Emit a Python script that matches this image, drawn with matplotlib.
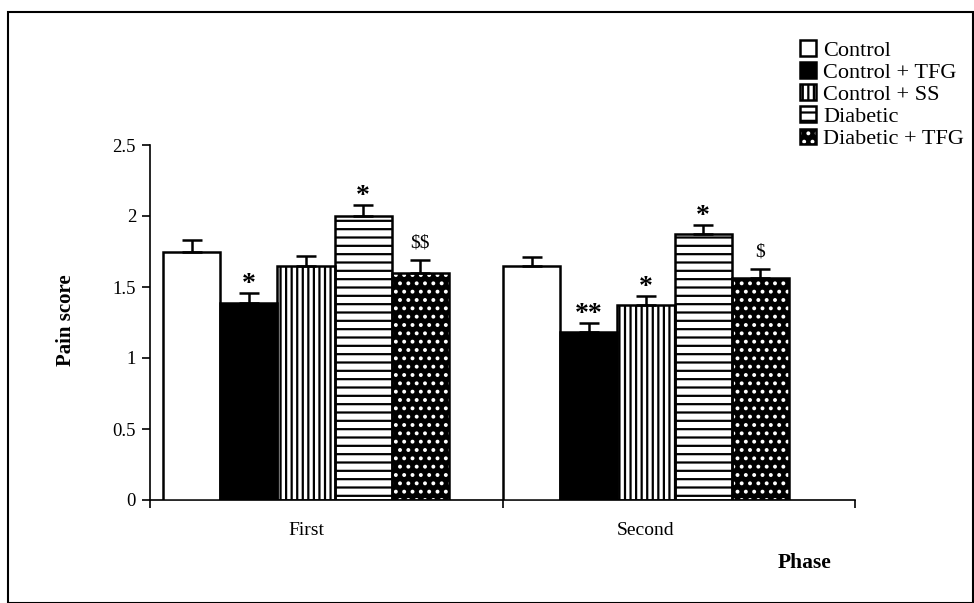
import matplotlib
matplotlib.use("Agg")
import matplotlib.pyplot as plt
import numpy as np
from matplotlib.patches import Patch, Rectangle
from matplotlib.legend_handler import HandlerTuple

plt.rcParams['font.family'] = ['Liberation Serif', 'DejaVu Serif']
plt.rcParams['hatch.linewidth'] = 1.6
plt.rcParams['text.parse_math'] = False

phases = ["First", "Second"]
series = ["Control", "Control + TFG", "Control + SS", "Diabetic", "Diabetic + TFG"]
means = {
    "Control":        [1.75, 1.65],
    "Control + TFG":  [1.39, 1.18],
    "Control + SS":   [1.65, 1.37],
    "Diabetic":       [2.00, 1.87],
    "Diabetic + TFG": [1.60, 1.56],
}
errors = {
    "Control":        [0.08, 0.06],
    "Control + TFG":  [0.07, 0.07],
    "Control + SS":   [0.07, 0.07],
    "Diabetic":       [0.08, 0.07],
    "Diabetic + TFG": [0.09, 0.07],
}
marks = {
    "Control":        ["", ""],
    "Control + TFG":  ["*", "**"],
    "Control + SS":   ["", "*"],
    "Diabetic":       ["*", "*"],
    "Diabetic + TFG": ["$$", "$"],
}

styles = {
    "Control":        dict(fc="white", hatch=None, hc=None),
    "Control + TFG":  dict(fc="black", hatch=None, hc=None),
    "Control + SS":   dict(fc="white", hatch="|||", hc="black"),
    "Diabetic":       dict(fc="white", hatch="--", hc="black"),
    "Diabetic + TFG": dict(fc="black", hatch="..", hc="white"),
}

fig = plt.figure(figsize=(9.74, 6.03), dpi=100)
ax = fig.add_axes([150/974, 1-500/603, 705/974, 355/603])

x = np.arange(len(phases))
w = 0.168
for i, s in enumerate(series):
    xs = x + (i - 2) * w
    st = styles[s]
    if st["hatch"]:
        ax.bar(xs, means[s], w, color=st["fc"], edgecolor=st["hc"], hatch=st["hatch"], linewidth=0, zorder=2)
        ax.bar(xs, means[s], w, fill=False, edgecolor="black", linewidth=1.8, zorder=3)
    else:
        ax.bar(xs, means[s], w, color=st["fc"], edgecolor="black", linewidth=1.8, zorder=3)
    ax.errorbar(xs, means[s], yerr=[np.zeros(len(xs)), errors[s]], fmt="none",
                ecolor="black", elinewidth=1.8, capsize=7, capthick=1.8, zorder=4)
    for xi, m, e, t in zip(xs, means[s], errors[s], marks[s]):
        if t:
            if "$" in t:
                ax.annotate(t, (xi, m + e), xytext=(0, 6), textcoords="offset points",
                            ha="center", va="bottom", fontsize=14)
            else:
                ax.annotate(t, (xi, m + e), xytext=(0, -3), textcoords="offset points",
                            ha="center", va="bottom", fontsize=20, fontweight="bold")

ax.set_xlim(-0.459, 1.615)
ax.set_ylim(0, 2.5)
ax.set_yticks([0, 0.5, 1, 1.5, 2, 2.5])
ax.set_yticklabels(["0", "0.5", "1", "1.5", "2", "2.5"], fontsize=13.5)
ax.set_xticks(x)
ax.set_xticklabels(phases, fontsize=14)
ax.tick_params(axis="x", which="major", length=0, pad=16)
ax.set_xticks([-0.459, 0.58, 1.615], minor=True)
ax.tick_params(axis="x", which="minor", length=6, width=1.2, direction="out")
ax.tick_params(axis="y", length=6, width=1.2, direction="out", pad=4)
for sp in ["top", "right"]:
    ax.spines[sp].set_visible(False)
for sp in ["left", "bottom"]:
    ax.spines[sp].set_linewidth(1.2)
ax.set_facecolor("none")

fig.text(66/974, 1-320/603, "Pain score", rotation=90, ha="center", va="center",
         fontsize=15, fontweight="bold")
fig.text(805/974, 1-563/603, "Phase", ha="center", va="center", fontsize=15.5, fontweight="bold")

handles = []
for s in series:
    st = styles[s]
    if s == "Diabetic + TFG":
        handles.append((Patch(facecolor="black", edgecolor="white", hatch="..", linewidth=0),
                        Patch(fill=False, edgecolor="black", linewidth=1.8)))
    elif st["hatch"]:
        handles.append(Patch(facecolor="white", edgecolor="black", hatch=st["hatch"], linewidth=1.8))
    else:
        handles.append(Patch(facecolor=st["fc"], edgecolor="black", linewidth=1.8))
leg = fig.legend(handles, series, loc="upper left", bbox_to_anchor=(789/974, 1-29/603),
                 frameon=False, fontsize=16, handlelength=0.7, handleheight=0.7,
                 handletextpad=0.35, labelspacing=0.07, borderpad=0,
                 handler_map={tuple: HandlerTuple(ndivide=1, pad=0)})

fig.add_artist(Rectangle((8/974, 0), 965/974, 1-12/603, transform=fig.transFigure,
                         fill=False, edgecolor="black", linewidth=1.5))

fig.savefig("out.png", dpi=100)
